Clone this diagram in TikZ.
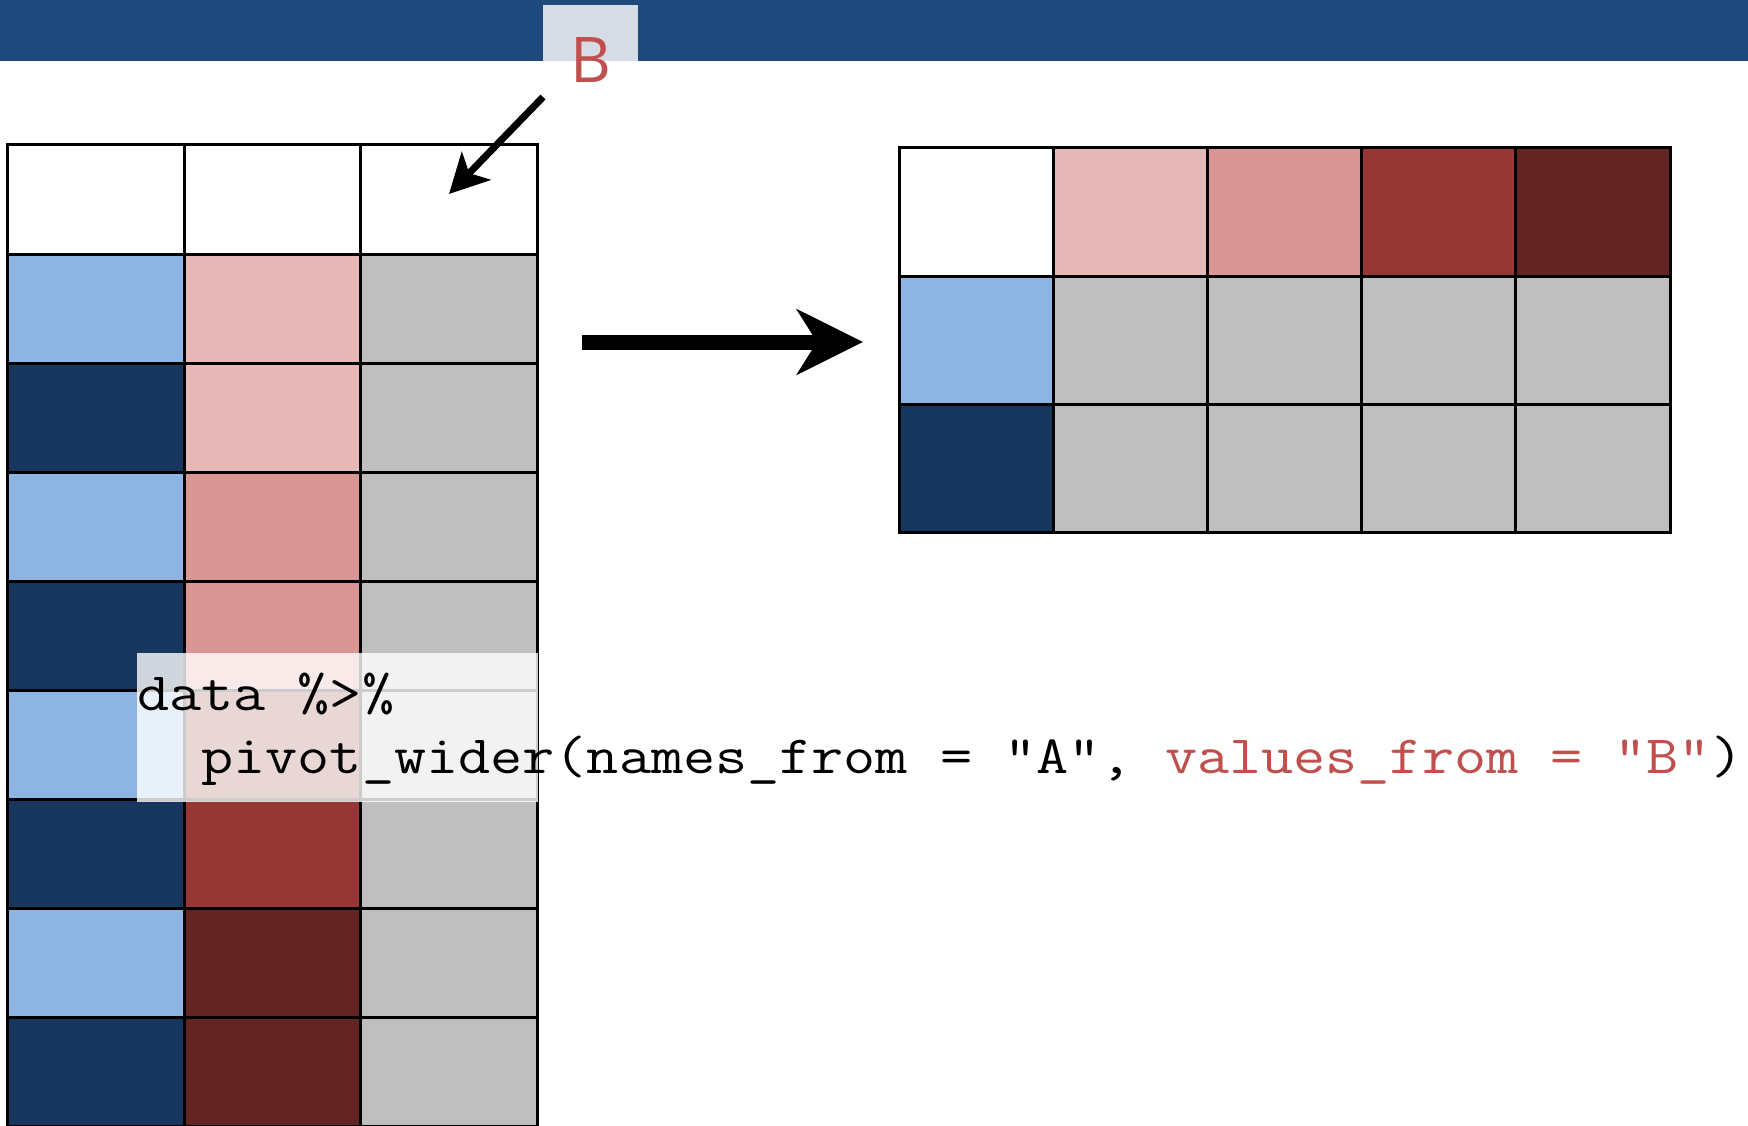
\documentclass[tikz,border=0pt]{standalone}
\usepackage{fontspec}
\newfontfamily\labelfont{Open Sans}
\usetikzlibrary{arrows.meta}
\definecolor{banner}{HTML}{1F497D}
\definecolor{tabbox}{HTML}{D5DCE6}
\definecolor{lblue}{HTML}{8EB4E3}
\definecolor{dblue}{HTML}{17365D}
\definecolor{pinkA}{HTML}{E6B9B8}
\definecolor{pinkB}{HTML}{D99694}
\definecolor{redC}{HTML}{953735}
\definecolor{redD}{HTML}{632523}
\definecolor{cgray}{HTML}{BFBFBF}
\definecolor{codered}{HTML}{C0504D}
\begin{document}
\begin{tikzpicture}[x=1pt,y=-1pt,
  lcell/.style={draw=black,line width=3pt,minimum width=176.5pt,minimum height=109pt,inner sep=0pt,outer sep=0pt},
  rcell/.style={draw=black,line width=3pt,minimum width=154.2pt,minimum height=128.3pt,inner sep=0pt,outer sep=0pt},
  codeline/.style={anchor=base west,inner sep=0pt,font=\fontsize{54}{55}\selectfont\ttfamily}]
\useasboundingbox (0,0) rectangle (1748,1126);
\fill[white] (0,0) rectangle (1748,1126);
% banner
\fill[banner] (0,0) rectangle (1748,61);
\node[fill=tabbox,minimum width=95pt,minimum height=56pt,inner sep=0pt,anchor=north west] (tab) at (543,5) {};
\node[anchor=base,inner sep=0pt,text=codered,font=\fontsize{63}{63}\selectfont\labelfont] (blabel) at (591,83) {B};
% left table
\foreach \c/\col in {0/white,1/white,2/white}{
  \node[lcell,fill=\col] (L0\c) at ({7.5+176.5*\c+88.25},{145+54.5}) {};
}
\foreach \r/\ca/\cb in {1/lblue/pinkA,2/dblue/pinkA,3/lblue/pinkB,4/dblue/pinkB,5/lblue/redC,6/dblue/redC,7/lblue/redD,8/dblue/redD}{
  \node[lcell,fill=\ca] (L\r0) at ({7.5+88.25},{145+109*\r+54.5}) {};
  \node[lcell,fill=\cb] (L\r1) at ({7.5+176.5+88.25},{145+109*\r+54.5}) {};
  \node[lcell,fill=cgray] (L\r2) at ({7.5+353+88.25},{145+109*\r+54.5}) {};
}
% right table
\foreach \c/\col in {0/white,1/pinkA,2/pinkB,3/redC,4/redD}{
  \node[rcell,fill=\col] (R0\c) at ({899+154.2*\c+77.1},{148+64.15}) {};
}
\foreach \r/\ca in {1/lblue,2/dblue}{
  \node[rcell,fill=\ca] (R\r0) at ({899+77.1},{148+128.3*\r+64.15}) {};
  \foreach \c in {1,2,3,4}{
    \node[rcell,fill=cgray] (R\r\c) at ({899+154.2*\c+77.1},{148+128.3*\r+64.15}) {};
  }
}
% arrows
\coordinate (dstart) at (543,97);
\coordinate (dtip) at (449,194);
\draw[line width=7pt,-{Stealth[length=39pt,width=40pt,inset=10pt]}] (dstart) -- (dtip);
\coordinate (astart) at (582,342);
\coordinate (atip) at (863,342);
\draw[line width=15pt,-{Stealth[length=66pt,width=65pt,inset=20pt]}] (astart) -- (atip);
% code box
\node[fill=white,fill opacity=0.8,minimum width=401pt,minimum height=149pt,inner sep=0pt,anchor=north west] (codebox) at (137,653) {};
\node[codeline] (code1) at (137,710) {\scalebox{1.155}[1]{data~\%>\%}};
\node[codeline] (code2) at (137,773) {\scalebox{1.155}[1]{~~pivot\_wider(names\_from~=~"A",~\textcolor{codered}{values\_from~=~"B"})}};
\end{tikzpicture}
\end{document}
